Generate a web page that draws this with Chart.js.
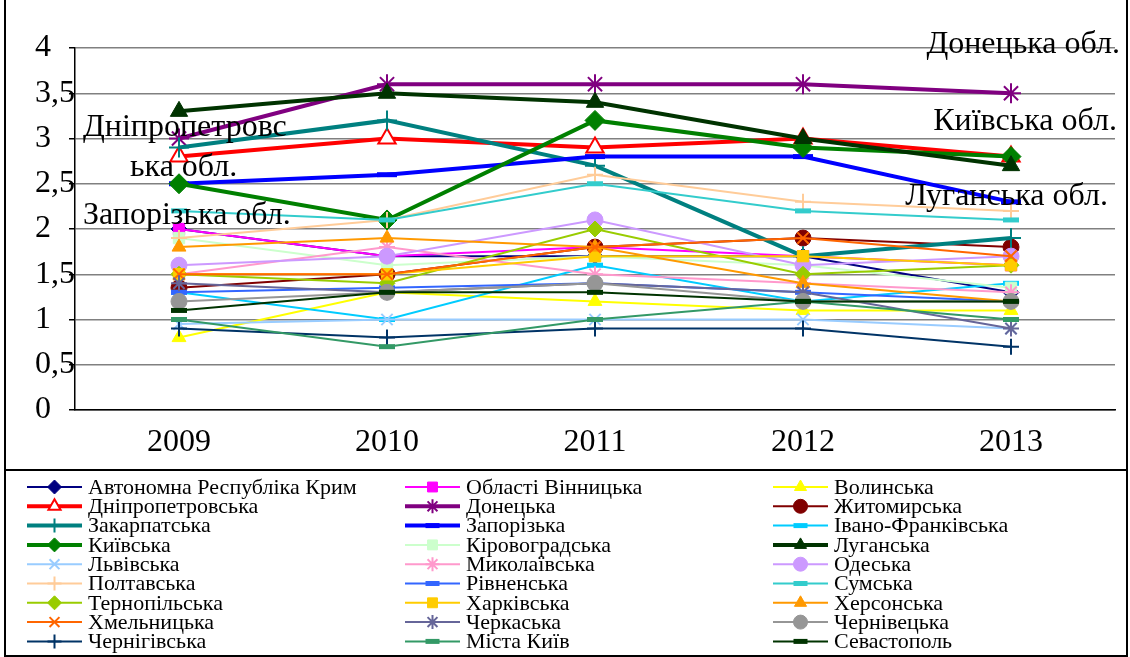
<!DOCTYPE html>
<html>
<head>
<meta charset="utf-8">
<script src="https://cdn.jsdelivr.net/npm/chart.js@4/dist/chart.umd.min.js"></script>
<style>
  body { margin: 0; background: #fff; }
  #wrap { width: 1130px; height: 657px; position: relative; }
</style>
</head>
<body>
<div id="wrap"><canvas id="chart" width="1130" height="657"></canvas></div>
<script>
// роки
const years = ["2009", "2010", "2011", "2012", "2013"];

// назви регіонів (порядок як у легенді, по рядках)
const regions = [
  "Автономна Республіка Крим", "Області Вінницька", "Волинська",
  "Дніпропетровська", "Донецька", "Житомирська",
  "Закарпатська", "Запорізька", "Івано-Франківська",
  "Київська", "Кіровоградська", "Луганська",
  "Львівська", "Миколаївська", "Одеська",
  "Полтавська", "Рівненська", "Сумська",
  "Тернопільська", "Харківська", "Херсонська",
  "Хмельницька", "Черкаська", "Чернівецька",
  "Чернігівська", "Міста Київ", "Севастополь"
];

// значення по роках
const krym = [2.0, 1.7, 1.7, 1.7, 1.3];
const vinnytsia = [2.0, 1.7, 1.8, 1.7, 1.6];
const volyn = [0.8, 1.3, 1.2, 1.1, 1.1];
const dnipro = [2.8, 3.0, 2.9, 3.0, 2.8];
const donetsk = [3.0, 3.6, 3.6, 3.6, 3.5];
const zhytomyr = [1.35, 1.5, 1.8, 1.9, 1.8];
const zakarpattia = [2.9, 3.2, 2.7, 1.7, 1.9];
const zaporizhzhia = [2.5, 2.6, 2.8, 2.8, 2.3];
const ivanoFrankivsk = [1.3, 1.0, 1.6, 1.2, 1.4];
const kyivObl = [2.5, 2.1, 3.2, 2.9, 2.8];
const kirovohrad = [1.9, 1.6, 1.7, 1.6, 1.35];
const luhansk = [3.3, 3.5, 3.4, 3.0, 2.7];
const lviv = [0.95, 1.0, 1.0, 1.0, 0.9];
const mykolaiv = [1.5, 1.8, 1.5, 1.4, 1.3];
const odesa = [1.6, 1.7, 2.1, 1.6, 1.7];
const poltava = [1.9, 2.1, 2.6, 2.3, 2.2];
const rivne = [1.3, 1.35, 1.4, 1.3, 1.2];
const sumy = [2.2, 2.1, 2.5, 2.2, 2.1];
const ternopil = [1.5, 1.4, 2.0, 1.5, 1.6];
const kharkiv = [1.5, 1.5, 1.7, 1.7, 1.6];
const kherson = [1.8, 1.9, 1.8, 1.4, 1.2];
const khmelnytskyi = [1.5, 1.5, 1.8, 1.9, 1.7];
const cherkasy = [1.4, 1.3, 1.4, 1.3, 0.9];
const chernivtsi = [1.2, 1.3, 1.4, 1.2, 1.2];
const chernihiv = [0.9, 0.8, 0.9, 0.9, 0.7];
const kyivCity = [1.0, 0.7, 1.0, 1.2, 1.0];
const sevastopol = [1.1, 1.3, 1.3, 1.2, 1.2];

const values = [
  krym, vinnytsia, volyn, dnipro, donetsk, zhytomyr, zakarpattia, zaporizhzhia,
  ivanoFrankivsk, kyivObl, kirovohrad, luhansk, lviv, mykolaiv, odesa, poltava,
  rivne, sumy, ternopil, kharkiv, kherson, khmelnytskyi, cherkasy, chernivtsi,
  chernihiv, kyivCity, sevastopol
];

const yTicks = [0, 0.5, 1, 1.5, 2, 2.5, 3, 3.5, 4];

// стилі серій
const styles = [
  { c: "#000080", p: "rectRot", w: 2 },
  { c: "#FF00FF", p: "rect", w: 2 },
  { c: "#FFFF00", p: "triangle", w: 2 },
  { c: "#FF0000", p: "triangle", w: 4, open: true },
  { c: "#800080", p: "star", w: 4 },
  { c: "#800000", p: "circle", w: 2 },
  { c: "#008080", p: "cross", w: 4 },
  { c: "#0000FF", p: "line", w: 4 },
  { c: "#00CCFF", p: "line", w: 2 },
  { c: "#008000", p: "rectRot", w: 4 },
  { c: "#CCFFCC", p: "rect", w: 2 },
  { c: "#003300", p: "triangle", w: 4 },
  { c: "#99CCFF", p: "crossRot", w: 2 },
  { c: "#FF99CC", p: "star", w: 2 },
  { c: "#CC99FF", p: "circle", w: 2 },
  { c: "#FFCC99", p: "cross", w: 2 },
  { c: "#3366FF", p: "line", w: 2 },
  { c: "#33CCCC", p: "line", w: 2 },
  { c: "#99CC00", p: "rectRot", w: 2 },
  { c: "#FFCC00", p: "rect", w: 2 },
  { c: "#FF9900", p: "triangle", w: 2 },
  { c: "#FF6600", p: "crossRot", w: 2 },
  { c: "#666699", p: "star", w: 2 },
  { c: "#969696", p: "circle", w: 2 },
  { c: "#003366", p: "cross", w: 2 },
  { c: "#339966", p: "line", w: 2 },
  { c: "#003300", p: "line", w: 2 }
];

const serif = "'Liberation Serif', 'DejaVu Serif', serif";

const datasets = regions.map((name, i) => {
  const s = styles[i];
  const stroked = s.p === "line" || s.p === "cross" || s.p === "crossRot" || s.p === "star";
  return {
    label: name,
    data: values[i],
    borderColor: s.c,
    backgroundColor: s.open ? "#FFFFFF" : s.c,
    borderWidth: s.w,
    pointStyle: s.p,
    pointRadius: s.w === 4 ? 10 : 8,
    pointBorderWidth: stroked ? (s.p === "line" ? 5 : 2) : (s.open ? 2 : 1),
    pointBorderColor: s.c,
    pointBackgroundColor: s.open ? "#FFFFFF" : s.c,
    tension: 0,
    order: regions.length - i // пізніші серії поверх
  };
});

// підписи на полі графіка + рамка + легенда
const extras = {
  id: "extras",
  afterDraw(chart) {
    const ctx = chart.ctx;
    ctx.save();
    ctx.fillStyle = "#000";
    ctx.font = "32px " + serif;
    ctx.textBaseline = "middle";
    ctx.textAlign = "right";
    ctx.fillText("Донецька обл.", 1120, 45);
    ctx.fillText("Київська обл.", 1117, 122);
    ctx.fillText("Луганська обл.", 1108, 197);
    ctx.textAlign = "left";
    ctx.fillText("Дніпропетровс", 83, 128);
    ctx.fillText("ька обл.", 130, 168);
    ctx.fillText("Запорізька обл.", 83, 216);

    // рамка
    ctx.strokeStyle = "#000";
    ctx.lineWidth = 2;
    ctx.beginPath();
    ctx.moveTo(5, 0); ctx.lineTo(5, 657);
    ctx.moveTo(1127, 0); ctx.lineTo(1127, 657);
    ctx.stroke();
    ctx.strokeRect(5, 470, 1122, 186);

    // легенда
    const colX = [27, 405, 773];
    const lineLen = 55;
    ctx.font = "22px " + serif;
    chart.data.datasets.forEach((ds, i) => {
      const col = i % 3;
      const row = Math.floor(i / 3);
      const x = colX[col];
      const y = 487 + row * 19.3;
      ctx.strokeStyle = ds.borderColor;
      ctx.lineWidth = ds.borderWidth;
      ctx.beginPath();
      ctx.moveTo(x, y); ctx.lineTo(x + lineLen, y);
      ctx.stroke();
      ctx.fillStyle = ds.pointBackgroundColor;
      ctx.strokeStyle = ds.pointBorderColor;
      ctx.lineWidth = ds.pointBorderWidth;
      Chart.helpers.drawPoint(ctx, {
        pointStyle: ds.pointStyle,
        radius: 7,
        rotation: 0,
        borderWidth: ds.pointBorderWidth
      }, x + lineLen / 2, y);
      ctx.fillStyle = "#000";
      ctx.textAlign = "left";
      ctx.fillText(ds.label, x + lineLen + 6, y + 1);
    });
    ctx.restore();
  }
};

new Chart(document.getElementById("chart"), {
  type: "line",
  data: { labels: years, datasets: datasets },
  options: {
    responsive: false,
    animation: false,
    layout: { padding: { left: 35, right: 5, top: 48, bottom: 0 } },
    plugins: { legend: { display: false }, tooltip: { enabled: false } },
    scales: {
      x: {
        offset: true,
        grid: { display: false, drawTicks: false },
        border: { color: "#000", width: 1.5 },
        ticks: { color: "#000", font: { family: serif, size: 32 }, padding: 13 },
        afterFit: (s) => { s.height = 247; }
      },
      y: {
        min: 0,
        max: 4,
        afterBuildTicks: (s) => { s.ticks = yTicks.map((v) => ({ value: v })); },
        grid: { color: "#808080", lineWidth: 1.5, drawTicks: true, tickLength: 6, tickColor: "#000" },
        border: { color: "#000", width: 1.5 },
        ticks: {
          color: "#000",
          font: { family: serif, size: 32 },
          padding: 4,
          crossAlign: "far",
          callback: (v) => String(v).replace(".", ",")
        },
        afterFit: (s) => { s.width = 40; }
      }
    }
  },
  plugins: [extras]
});
</script>
</body>
</html>
